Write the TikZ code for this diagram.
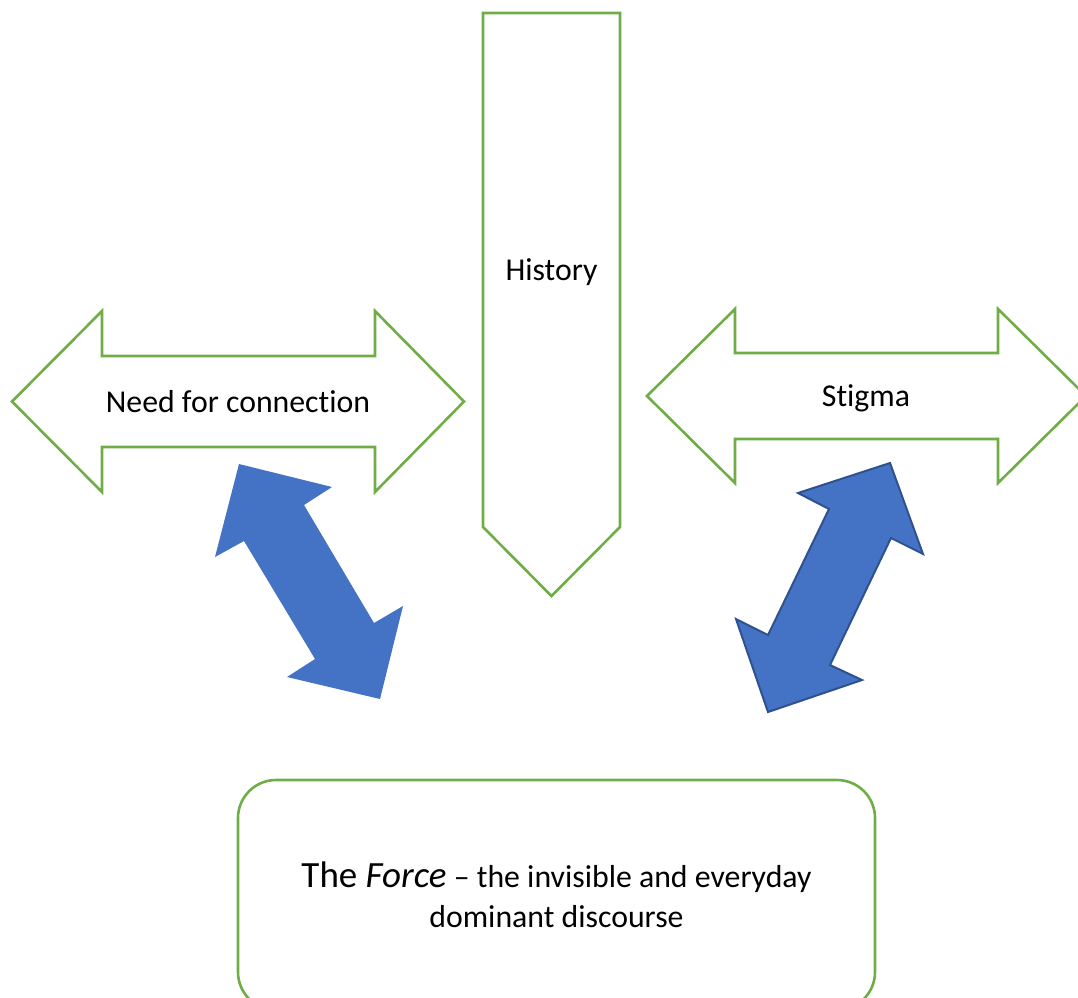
\documentclass[tikz,border=0pt]{standalone}
\usepackage{fontspec}
\setmainfont{Carlito}[Ligatures=NoCommon]
\usepackage{tikz}
\definecolor{leafgreen}{HTML}{70AD47}
\definecolor{midblue}{HTML}{4472C4}
\definecolor{deepblue}{HTML}{2F528F}

\begin{document}
\begin{tikzpicture}[x=1pt,y=-1pt,
  greenline/.style={draw=leafgreen, line width=2.6pt, line join=miter, fill=white},
  bluearrow/.style={fill=midblue, line join=miter},
  label/.style={font=\fontsize{31.8}{38}\selectfont, inner sep=0pt}]
  \useasboundingbox (0,0) rectangle (1078,997);
  % the three open arrows
  \draw[greenline] (12,401.5) -- (102,311) -- (102,356) -- (375,356) -- (375,311) -- (464,401.5)
    -- (375,492) -- (375,447) -- (102,447) -- (102,492) -- cycle;
  \draw[greenline] (647,396) -- (735,309) -- (735,353) -- (998,353) -- (998,309) -- (1086,396)
    -- (998,483) -- (998,439) -- (735,439) -- (735,483) -- cycle;
  \draw[greenline] (483,13) -- (620,13) -- (620,527) -- (551.5,596) -- (483,527) -- cycle;
  % the two solid arrows
  \fill[bluearrow] (239,464) -- (332,487) -- (304,505) -- (374,623) -- (403,606) -- (380,699)
    -- (287,677) -- (315,659) -- (244,541) -- (215,557) -- cycle;
  \filldraw[bluearrow, draw=deepblue, line width=2pt] (890,463) -- (923,554) -- (891,538) -- (830,665)
    -- (862,680) -- (768,712) -- (736,619) -- (768,635) -- (829,509) -- (798,493) -- cycle;
  \node[label] (need) at (238,402) {Need for connection};
  \node[label] (history) at (551.5,272) {History};
  \node[label] (stigma) at (866,398) {Stigma};
  \node[draw=leafgreen, line width=2.6pt, rounded corners=38pt, minimum width=637pt, minimum height=230pt,
    align=center, font=\fontsize{31.8}{40}\selectfont] (force) at (556.5,895)
    {{\fontsize{37}{40}\selectfont The \textit{Force}} -- the invisible and everyday\\dominant discourse};
\end{tikzpicture}
\end{document}
